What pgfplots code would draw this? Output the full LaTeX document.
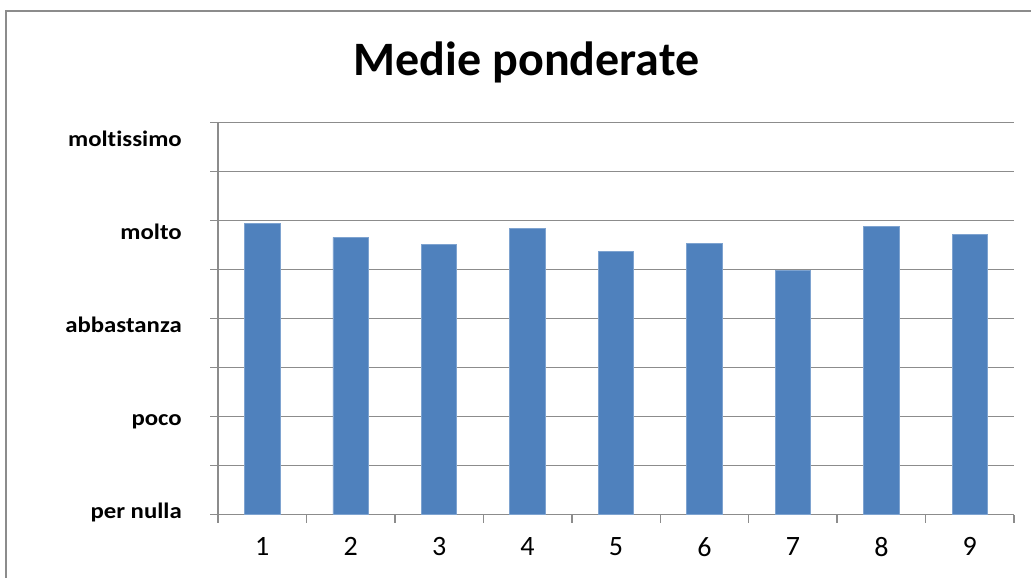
\documentclass[border=0pt]{standalone}
\usepackage{pgfplots}
\pgfplotsset{compat=1.18}
\usepackage{fontspec}
\setmainfont{Carlito}[Ligatures=NoCommon]
\newfontfamily\ylabfont{Carlito}[Ligatures=NoCommon,FakeStretch=1.12]
\definecolor{barblue}{HTML}{4F81BD}
\definecolor{baredge}{HTML}{7EA3D0}
\definecolor{gridgray}{HTML}{8C8C8C}
\begin{document}
\begin{tikzpicture}[x=1bp,y=1bp]
\useasboundingbox (0,0) rectangle (773.25,433.5);
\draw[gridgray,line width=1.5bp] (4.5,0) -- (4.5,425.25) -- (773.25,425.25);
\node[anchor=base,font=\fontsize{36bp}{40bp}\selectfont\bfseries] at (394.9,376.5) {Medie ponderate};
\begin{axis}[
  at={(163.5bp,47.5bp)}, anchor=south west,
  scale only axis, width=597bp, height=294bp,
  xmin=0.5, xmax=9.5, ymin=1, ymax=5,
  axis x line=bottom, axis y line=left,
  axis line style={gridgray,line width=1.1bp,-},
  xtick={1,...,9},
  major x tick style={draw=none},
  minor xtick={0.5,1.5,...,9.5},
  minor x tick style={gridgray,line width=1.1bp},
  minor tick length=6bp,
  ytick={1,1.5,...,5},
  yticklabels={},
  major tick length=6bp,
  tick align=outside,
  y tick style={gridgray,line width=1.1bp},
  ymajorgrids, grid style={gridgray,line width=1.1bp},
  xticklabel style={font=\fontsize{21bp}{24bp}\selectfont, yshift=-7.5bp},
  /pgf/number format/assume math mode=true,
  ybar, bar width=0.4,
]
\addplot[fill=barblue, draw=baredge, line width=0.6bp] coordinates {
(1,3.97) (2,3.83) (3,3.76) (4,3.92) (5,3.69) (6,3.77) (7,3.49) (8,3.94) (9,3.86)};
\end{axis}
\begin{axis}[
  at={(163.5bp,47.5bp)}, anchor=south west,
  scale only axis, width=597bp, height=294bp,
  xmin=0.5, xmax=9.5, ymin=0, ymax=392,
  hide x axis, axis y line*=left, y axis line style={draw=none},
  ytick={6.4,99.3,192.2,285.1,378},
  yticklabels={per nulla,poco,abbastanza,molto,moltissimo},
  major tick length=0pt, y tick style={draw=none},
  yticklabel style={font=\fontsize{16.6bp}{18bp}\ylabfont\bfseries, anchor=base east, inner sep=0pt, xshift=-27bp, yshift=-7.5bp},
]
\end{axis}
\end{tikzpicture}
\end{document}
